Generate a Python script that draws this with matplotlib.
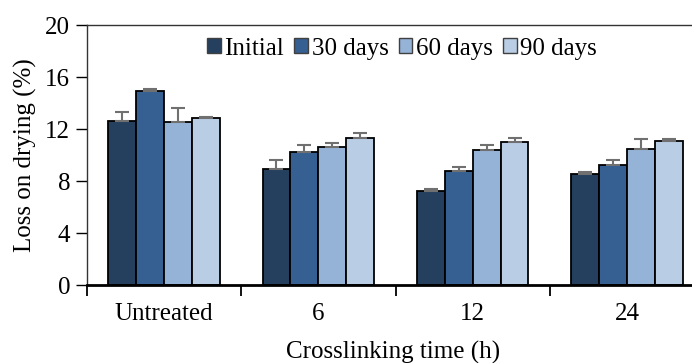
import numpy as np
import matplotlib.pyplot as plt

# Data
categories = ["Untreated", "6", "12", "24"]
series = ["Initial", "30 days", "60 days", "90 days"]
initial = [12.6, 8.9, 7.26, 8.54]
days30 = [14.92, 10.23, 8.74, 9.26]
days60 = [12.52, 10.6, 10.41, 10.46]
days90 = [12.82, 11.28, 11.03, 11.1]
err_initial = [0.68, 0.7, 0.12, 0.18]
err_30 = [0.16, 0.57, 0.36, 0.33]
err_60 = [1.08, 0.3, 0.39, 0.77]
err_90 = [0.08, 0.42, 0.3, 0.15]

colors = ["#253F5F", "#366092", "#95B3D7", "#B9CDE5"]

plt.rcParams['font.family'] = ['Liberation Serif', 'DejaVu Serif']
fs = 18

fig = plt.figure(figsize=(6.92, 3.63), dpi=100)
# axes extends slightly past the right edge, as in the cropped original
ax = fig.add_axes([87 / 692, 1 - 285 / 363, (704 - 87) / 692, 260 / 363])

x = np.arange(len(categories))
w = 0.181
values = [initial, days30, days60, days90]
errors = [err_initial, err_30, err_60, err_90]
for i, (vals, errs) in enumerate(zip(values, errors)):
    pos = x + (i - 1.5) * w
    ax.bar(pos, vals, width=w, color=colors[i], edgecolor='black', linewidth=1.3,
           label=series[i], zorder=2)
    ax.errorbar(pos, vals, yerr=[np.zeros(len(errs)), errs], fmt='none',
                ecolor='#707070', elinewidth=1.5, capsize=5, capthick=1.5, zorder=3)

ax.set_xlim(-0.5, 3.5)
ax.set_ylim(0, 20)
ax.set_yticks([0, 4, 8, 12, 16, 20])
ax.set_xticks(x)
ax.set_xticklabels(categories)
ax.set_xticks(np.arange(-0.5, 4, 1), minor=True)
ax.tick_params(axis='x', which='major', length=0, pad=13, labelsize=fs)
ax.tick_params(axis='x', which='minor', length=8, width=1.3, direction='out')
ax.tick_params(axis='y', length=8, width=1.0, direction='out', labelsize=fs, pad=4)

for s in ['left', 'top', 'right']:
    ax.spines[s].set_color('#333333')
    ax.spines[s].set_linewidth(1.0)
ax.spines['bottom'].set_linewidth(2.0)

ax.set_ylabel("Loss on drying (%)", fontsize=fs, labelpad=6)
ax.set_xlabel("Crosslinking time (h)", fontsize=fs)
ax.xaxis.set_label_coords((393 - 87) / (704 - 87), -0.215)

leg = ax.legend(loc='upper center', bbox_to_anchor=((402 - 87) / (704 - 87), 0.99), ncol=4,
                frameon=False, fontsize=fs, handlelength=0.55, handleheight=0.55,
                handletextpad=0.15, columnspacing=0.4, borderaxespad=0)
for h in leg.legend_handles:
    h.set_edgecolor('#404040')
    h.set_linewidth(1.0)

fig.savefig("out.png", dpi=100)
